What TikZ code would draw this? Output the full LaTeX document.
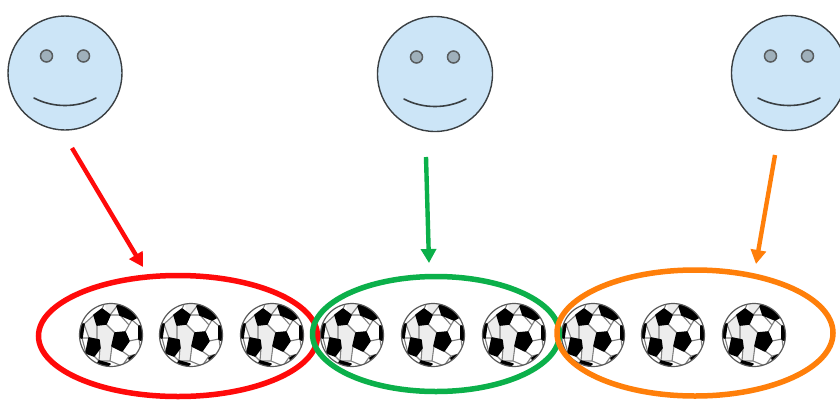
\documentclass[tikz,border=0pt]{standalone}
\usetikzlibrary{arrows.meta,shapes.geometric}
\definecolor{facefill}{HTML}{CCE5F7}
\definecolor{eyefill}{HTML}{9FB0BB}
\definecolor{facelin}{HTML}{3A3F42}
\definecolor{myred}{HTML}{FF0A0A}
\definecolor{mygreen}{HTML}{0BB04A}
\definecolor{myorange}{HTML}{FF7F0A}
\tikzset{
  facebody/.style={circle,draw=facelin,fill=facefill,line width=1.4pt,minimum size=#1,inner sep=0pt},
  eye/.style={circle,draw=facelin!85,fill=eyefill,line width=1.5pt,minimum size=12pt,inner sep=0pt},
  mouth/.style={draw=facelin,line width=1.6pt,line cap=round},
  ring/.style={ellipse,draw=#1,line width=5.5pt,inner sep=0pt},
  pointer/.style={draw=#1,line width=4.4pt,-{Triangle[length=14pt,width=15pt,fill=#1]}},
  seam/.style={draw=black!50,line width=1.1pt,line join=round},
  patch/.style={fill=black,draw=black,line width=1.6pt,line join=round},
  panelshade/.style={fill=black!7},
  pics/ball/.style={code={
    \path[fill=white] (0,0) circle (31.5);
    \begin{scope}
      \clip (0,0) circle (31.5);
      \path[panelshade] (-17,-20) -- (-14,-10) -- (-14,5) -- (-22,3) -- (-27,-11) -- cycle;
      \path[panelshade] (-14,-10) -- (-5,-11) -- (4,-2) -- (1,11) -- (-1,26) -- (-12,26) -- (-11,13) -- (-14,5) -- cycle;
      \path[panelshade] (-6,-32) -- (6,-32) -- (6,-26) -- (-1,-20) -- (-5,-24) -- cycle;
      \path[seam] (-1,-20) -- (9,-20) (21,-15) -- (18,-10) -- (9,-20) (18,-10) -- (14,-3)
        (-1,-20) -- (-5,-11) (-5,-11) -- (4,-2) (-5,-11) -- (-14,-10) (-14,-10) -- (-14,5)
        (-17,-20) -- (-27,-11) -- (-22,3) (-9,-26) -- (-6,-33) (6,-29) -- (-1,-20)
        (21,-15) -- (28,-9) (28,4) -- (18,6) (28,4) -- (30,18) -- (18,21) -- (11,16)
        (1,11) -- (-1,26) -- (-12,26) -- (-11,13) (-1,26) -- (11,31) -- (18,21)
        (-17,21) -- (-12,26) (-25,18) -- (-29,3) (-22,3) -- (-29,3);
      \path[patch] (-17,-20) -- (-9,-26) -- (-1,-20) -- (-5,-11) -- (-14,-10) -- cycle;
      \path[patch] (6,-29) -- (18,-33) -- (30,-20) -- (21,-15) -- (9,-20) -- cycle;
      \path[patch] (4,-2) -- (14,-3) -- (18,6) -- (11,16) -- (1,11) -- cycle;
      \path[patch] (-22,3) -- (-12,5) -- (-11,13) -- (-17,21) -- (-25,18) -- cycle;
      \path[patch] (-27,-11) -- (-33,-10) -- (-33,2) -- (-29,3) -- cycle;
      \path[patch] (28,-9) -- (33,-8) -- (33,7) -- (28,4) -- cycle;
      \path[patch] (-12,26) -- (-1,29) -- (-6,33) -- (-14,30) -- cycle;
      \path[patch] (18,23) -- (24,20) -- (30,22) -- (20,30) -- cycle;
    \end{scope}
    \path[draw=black!65,line width=1.2pt] (0,0) circle (31.5);
  }},
  pics/smile/.style={code={
    \node[eye] (-le) at (-18.5,-17) {};
    \node[eye] (-re) at (18.5,-17) {};
    \path[mouth] (-31,25) .. controls (-12,35) and (12,35) .. (31,25);
  }}
}
\begin{document}
\begin{tikzpicture}[x=1pt,y=-1pt]
\useasboundingbox (0,0) rectangle (840,399);
\path[fill=white] (0,0) rectangle (840,399);
% faces
\node[facebody=114pt] (f1) at (65,73) {};
\node[facebody=115pt] (f2) at (435,74) {};
\node[facebody=115pt] (f3) at (789,73) {};
\pic (m1) at (f1) {smile};
\pic (m2) at (f2) {smile};
\pic (m3) at (f3) {smile};
% balls
\foreach \n/\x in {1/111,2/191,3/272,4/352,5/433,6/514,7/593,8/673,9/754}
  \pic (b\n) at (\x,335) {ball};
% rings
\node[ring=myred,minimum width=279pt,minimum height=121pt] (e1) at (178,336) {};
\node[ring=mygreen,minimum width=247pt,minimum height=115pt] (e2) at (436,334) {};
\node[ring=myorange,minimum width=276pt,minimum height=126pt] (e3) at (695,333) {};
% arrow ends
\coordinate (a1s) at (72,148); \coordinate (a1e) at (143,267);
\coordinate (a2s) at (426,157); \coordinate (a2e) at (429,263);
\coordinate (a3s) at (775,155); \coordinate (a3e) at (756,264);
\draw[pointer=myred] (a1s) -- (a1e);
\draw[pointer=mygreen] (a2s) -- (a2e);
\draw[pointer=myorange] (a3s) -- (a3e);
\end{tikzpicture}
\end{document}
